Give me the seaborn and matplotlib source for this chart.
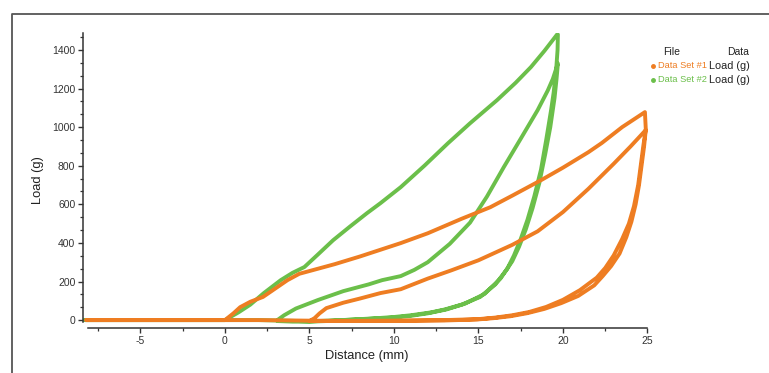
import numpy as np
import pandas as pd
import matplotlib
matplotlib.use("Agg")
import matplotlib.pyplot as plt
from matplotlib.lines import Line2D
from matplotlib.ticker import AutoMinorLocator, MultipleLocator
import seaborn as sns

# ---------------- data ----------------
files = ["Data Set #1", "Data Set #2"]
colors = ["#EE7D22", "#6BBF4A"]
legend_data = ["Load (g)", "Load (g)"]

# Data Set #1 (orange) - approach, load 1, unload 1, load 2, unload 2
set1_dist = [-8.2, -6, -4, -2, 0,
             0.5, 0.9, 1.5, 2.25, 3.0, 3.7, 4.4, 5.2, 6.5, 8, 10.4, 12, 14, 15.7, 17,
             18.7, 20, 21.5, 22.3, 23.5, 24.85,
             24.9, 24.75, 24.6, 24.45, 24.2, 23.9, 23.5, 23, 22.5, 22, 21, 20, 19, 18,
             17, 16, 15, 13, 10, 7, 5,
             5.3, 5.6, 6, 7, 8, 9.2, 10.4, 12, 13.4, 15, 17, 18.5, 20, 21.5, 23, 24,
             24.9,
             24.8, 24.65, 24.5, 24.3, 24.05, 23.75, 23.35, 22.85, 22.35, 21.85, 20.9,
             19.9, 18.9, 17.9, 16.9, 15.9, 14.9, 13, 10, 7, 5, 2, 0, -4, -8.2]
set1_load = [0, 0, 0, 0, 0,
             35, 67, 95, 120, 165, 207, 240, 259, 290, 330, 399, 450, 525, 585, 645,
             725, 790, 870, 918, 1000, 1078,
             990, 900, 800, 700, 590, 500, 420, 335, 270, 220, 155, 105, 68, 42,
             25, 13, 5, 0, -3, -5, -5,
             10, 35, 62, 90, 112, 140, 160, 215, 258, 310, 390, 460, 560, 680, 810, 900,
             985,
             900, 800, 700, 600, 510, 430, 345, 280, 228, 180, 125, 88, 58, 36,
             20, 10, 3, -2, -4, -4, -3, 0, 0, 0, 0]

# Data Set #2 (green) - approach, load 1, unload 1, load 2, unload 2
set2_dist = [-8.3, -6, -4, -2, 0,
             0.8, 1.5, 2.3, 3.3, 4.0, 4.7, 5.5, 6.4, 7.4, 8.4, 9.2, 10.4, 11.8, 13.2,
             14.5, 16.1, 17.2, 18.1, 18.9, 19.65,
             19.7, 19.68, 19.6, 19.45, 19.3, 19.0, 18.7, 18.3, 17.9, 17.5, 17.1, 16.7,
             16.0, 15.1, 14, 13, 12.2, 11, 10, 9, 8, 7, 6, 5, 4, 3.1,
             3.1, 3.5, 4.2, 5.5, 7, 8.5, 9.3, 10.4, 11.2, 12, 13.3, 14.5, 15.5, 16.5,
             17.5, 18.5, 19.1, 19.4, 19.7,
             19.62, 19.5, 19.25, 18.95, 18.6, 18.2, 17.8, 17.4, 17.0, 16.3, 15.35,
             14.2, 13.1, 12, 11, 10, 8, 6, 5, 4, 2, 0, -4, -8.3]
set2_load = [0, 0, 0, 0, 0,
             40, 80, 140, 207, 245, 275, 340, 414, 485, 554, 606, 689, 800, 917,
             1020, 1140, 1230, 1311, 1395, 1480,
             1480, 1400, 1300, 1180, 1090, 930, 780, 640, 520, 420, 335, 265,
             185, 120, 80, 55, 40, 25, 16, 10, 5, 0, -5, -8, -8, -5,
             0, 25, 60, 104, 150, 185, 207, 228, 260, 300, 395, 505, 640, 793,
             940, 1088, 1190, 1250, 1330,
             1250, 1150, 1000, 860, 710, 580, 470, 380, 305, 215, 135,
             85, 55, 35, 22, 13, 4, -3, -7, -4, 0, 0, 0, 0]

x_ticks = [-5, 0, 5, 10, 15, 20, 25]
y_ticks = [0, 200, 400, 600, 800, 1000, 1200, 1400]

# ---------------- figure ----------------
sns.set_theme(style="ticks")
plt.rcParams["font.family"] = ["Liberation Sans", "DejaVu Sans"]
plt.rcParams["axes.unicode_minus"] = False

df = pd.concat([
    pd.DataFrame({"Distance": set1_dist, "Load": set1_load, "File": files[0]}),
    pd.DataFrame({"Distance": set2_dist, "Load": set2_load, "File": files[1]}),
], ignore_index=True)

fig = plt.figure(figsize=(7.69, 3.73), dpi=100)
fig.patch.set_facecolor("white")
ax = fig.add_axes([83 / 769, 1 - 328 / 373, (650 - 83) / 769, (328 - 33) / 373])

sns.lineplot(data=df, x="Distance", y="Load", hue="File",
             hue_order=[files[1], files[0]], palette={files[0]: colors[0], files[1]: colors[1]},
             sort=False, estimator=None, linewidth=2.8, legend=False, ax=ax,
             solid_capstyle="round", solid_joinstyle="round")

ax.set_xlim(-8.4, 25.15)
ax.set_ylim(-41, 1488)
ax.set_xticks(x_ticks)
ax.set_yticks(y_ticks)
ax.xaxis.set_minor_locator(MultipleLocator(2.5))
ax.yaxis.set_minor_locator(AutoMinorLocator(3))
ax.tick_params(axis="both", which="major", direction="out", length=3.5, width=1.0,
               color="#333333", labelsize=7.5, labelcolor="#333333", pad=2)
ax.tick_params(axis="both", which="minor", direction="out", length=2, width=0.9,
               color="#333333")
for s in ["top", "right"]:
    ax.spines[s].set_visible(False)
for s in ["left", "bottom"]:
    ax.spines[s].set_color("#333333")
    ax.spines[s].set_linewidth(1.1)
ax.spines["bottom"].set_bounds(-8.1, 25.0)
ax.spines["left"].set_bounds(-12, 1488)
ax.set_facecolor("white")

ax.set_xlabel("Distance (mm)", fontsize=9.3, color="#222222", labelpad=3)
ax.set_ylabel("Load (g)", fontsize=9.3, color="#222222", labelpad=6)

# legend (table-like)
fig.text(672 / 769, 1 - 52 / 373, "File", fontsize=7.5, color="#222222",
         ha="center", va="center")
fig.text(738 / 769, 1 - 52 / 373, "Data", fontsize=7.5, color="#222222",
         ha="center", va="center")
for i, (f, c, d) in enumerate(zip(files, colors, legend_data)):
    yy = 1 - (66 + i * 14) / 373
    fig.add_artist(Line2D([653 / 769], [yy], marker="o", markersize=2.5, color=c,
                          linestyle="none", transform=fig.transFigure))
    fig.text(658 / 769, yy, f, fontsize=6.7, color=c, ha="left", va="center")
    fig.text(709 / 769, yy, d, fontsize=7.8, color="#222222", ha="left", va="center")

# outer frame (top and left edges)
fig.add_artist(Line2D([12 / 769, 12 / 769, 1.0], [0.0, 1 - 14 / 373, 1 - 14 / 373],
                      color="#555555", linewidth=1.3, transform=fig.transFigure))

fig.savefig("out.png", dpi=100, facecolor="white")
